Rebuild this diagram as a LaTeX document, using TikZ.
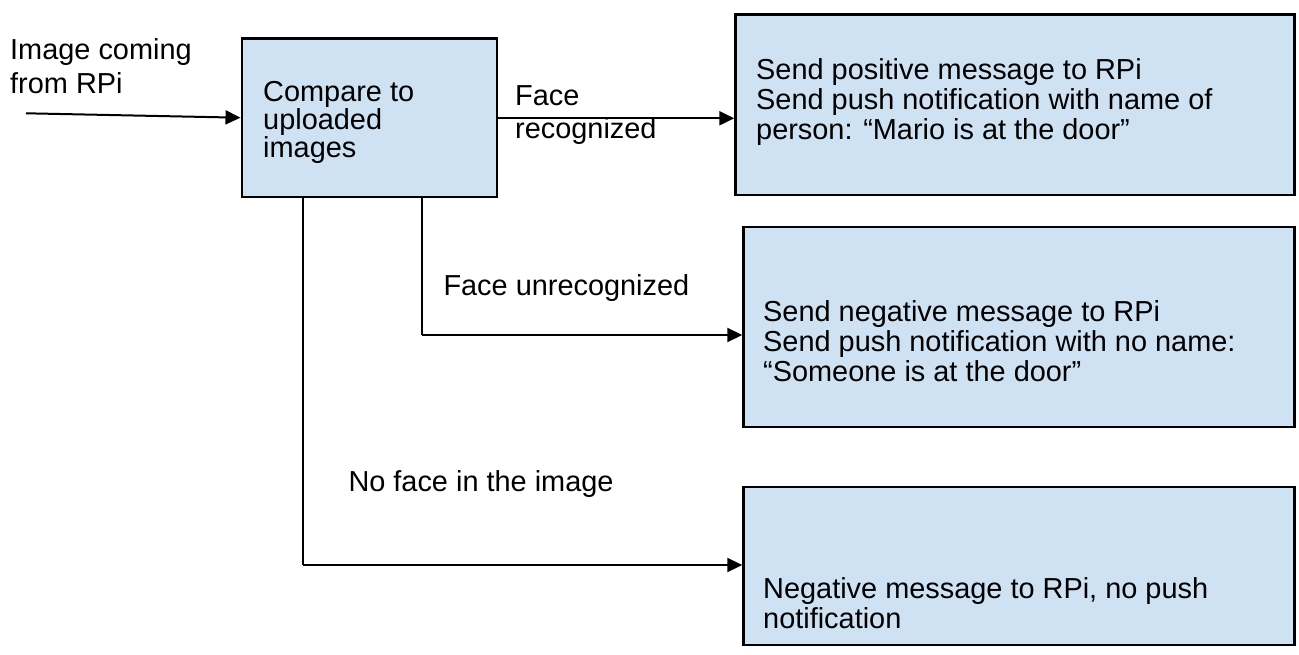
\documentclass[tikz,border=0pt]{standalone}
\usepackage{fontspec}
\setmainfont{Liberation Sans}
\usetikzlibrary{arrows.meta}
\definecolor{boxfill}{HTML}{CFE2F3}
\tikzset{
  stagebox/.style={draw=black, line width=2.4pt, fill=boxfill, inner sep=0pt,
    anchor=north west},
  % multi-line texts are placed by the baseline of their last line
  boxtext/.style={anchor=base west, inner sep=0pt, align=left,
    font=\fontsize{28.9}{30}\selectfont},
  edgetext/.style={anchor=base west, inner sep=0pt, align=left,
    font=\fontsize{28.9}{33.5}\selectfont},
  flow/.style={line width=2pt, -{Triangle[length=15pt,width=14pt]}},
  wire/.style={line width=2pt},
}
\begin{document}
\begin{tikzpicture}[x=1pt,y=-1pt]
\useasboundingbox (0,0) rectangle (1299,655);

% stage boxes
\node[stagebox, minimum width=255pt, minimum height=158.5pt] (cmp) at (240.5,37.5) {};
\node[stagebox, minimum width=559pt, minimum height=180.7pt] (pos) at (734.3,13.3) {};
\node[stagebox, minimum width=551pt, minimum height=200pt] (neg) at (742.3,225.7) {};
\node[stagebox, minimum width=551pt, minimum height=158.3pt] (none) at (742.3,485.7) {};

% box texts
\node[boxtext, font=\fontsize{28.9}{28}\selectfont] (cmpt) at (263,157.3) {Compare to\\uploaded\\images};
\node[boxtext] (post) at (756,140) {Send positive message to RPi\\Send push notification with name of\\person: “Mario is at the door”};
\node[boxtext] (negt) at (763,381.7) {Send negative message to RPi\\Send push notification with no name:\\“Someone is at the door”};
\node[boxtext] (nonet) at (763,628) {Negative message to RPi, no push\\notification};

% edge labels
\node[edgetext] (inlbl) at (10,93.5) {Image coming\\from RPi};
\node[edgetext] (reclbl) at (515,139) {Face\\recognized};
\node[edgetext] (unrlbl) at (443.3,295) {Face unrecognized};
\node[edgetext] (nflbl) at (348.3,491.7) {No face in the image};

% connector anchors
\coordinate (src) at (26,113.3);
\coordinate (inend) at (240.5,117.7);
\coordinate (dropA) at (303.3,196);
\coordinate (bendA) at (303.3,565);
\coordinate (dropB) at (421.7,196);
\coordinate (bendB) at (421.7,335);

% connectors
\draw[flow] (src) -- (inend);
\draw[flow] (cmp.east |- 0,118.3) -- (pos.west |- 0,118.3);
\draw[wire] (dropB) -- (bendB);
\draw[flow] (bendB) -- (neg.west |- bendB);
\draw[wire] (dropA) -- (bendA);
\draw[flow] (bendA) -- (none.west |- bendA);
\end{tikzpicture}
\end{document}
